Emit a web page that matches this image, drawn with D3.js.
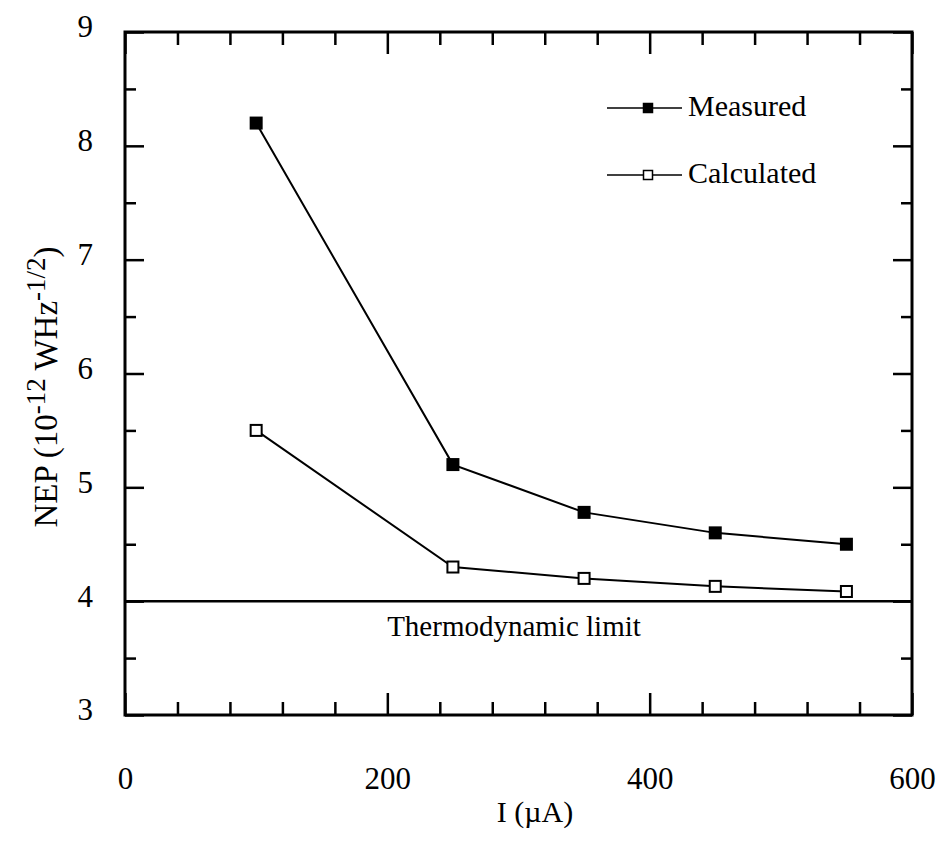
<!DOCTYPE html>
<html>
<head>
<meta charset="utf-8">
<script src="https://cdn.jsdelivr.net/npm/d3@7"></script>
<style>
  body { margin: 0; background: #fff; }
  text { font-family: "Liberation Serif", "Times New Roman", serif; fill: #000; }
</style>
</head>
<body>
<div id="chart"></div>
<script>
// data
var currents = [100, 250, 350, 450, 550];          // I (uA)
var measured = [8.2, 5.2, 4.78, 4.6, 4.5];         // NEP measured
var calculated = [5.5, 4.3, 4.2, 4.13, 4.085];     // NEP calculated
var thermoLimit = 4.0;
var xMajor = [0, 200, 400, 600];
var yMajor = [3, 4, 5, 6, 7, 8, 9];
var legendLabels = ["Measured", "Calculated"];

var W = 947, H = 845;
var plotL = 125, plotR = 912, plotT = 32, plotB = 715;

var svg = d3.select("#chart")
  .append("svg")
    .attr("width", W)
    .attr("height", H);

var x = d3.scaleLinear()
  .domain([0, 600])
  .range([plotL, plotR]);

var y = d3.scaleLinear()
  .domain([3, 9])
  .range([plotB, plotT]);

var xMinor = d3.range(0, 601, 40).filter(d => xMajor.indexOf(d) < 0);
var yMinor = d3.range(3.5, 9, 1);

function blackTicks(g) {
  g.select(".domain").remove();
  g.selectAll("line").attr("stroke", "#000").attr("stroke-width", 2.5);
}

// bottom axis
svg.append("g")
  .attr("transform", "translate(0," + plotB + ")")
  .call(d3.axisBottom(x).tickValues(xMajor).tickSize(-22).tickPadding(52).tickFormat(d3.format("d")))
  .call(blackTicks)
  .call(g => g.selectAll("text").style("font-size", "31px").style("font-family", "Liberation Serif"));
svg.append("g")
  .attr("transform", "translate(0," + plotB + ")")
  .call(d3.axisBottom(x).tickValues(xMinor).tickSize(-13).tickFormat(""))
  .call(blackTicks);

// top axis (ticks only)
svg.append("g")
  .attr("transform", "translate(0," + plotT + ")")
  .call(d3.axisTop(x).tickValues(xMajor).tickSize(-22).tickFormat(""))
  .call(blackTicks);
svg.append("g")
  .attr("transform", "translate(0," + plotT + ")")
  .call(d3.axisTop(x).tickValues(xMinor).tickSize(-13).tickFormat(""))
  .call(blackTicks);

// left axis
svg.append("g")
  .attr("transform", "translate(" + plotL + ",0)")
  .call(d3.axisLeft(y).tickValues(yMajor).tickSize(-19).tickPadding(32).tickFormat(d3.format("d")))
  .call(blackTicks)
  .call(g => g.selectAll("text").attr("dy", "0.16em").style("font-size", "31px").style("font-family", "Liberation Serif"));
svg.append("g")
  .attr("transform", "translate(" + plotL + ",0)")
  .call(d3.axisLeft(y).tickValues(yMinor).tickSize(-11).tickFormat(""))
  .call(blackTicks);

// right axis (ticks only)
svg.append("g")
  .attr("transform", "translate(" + plotR + ",0)")
  .call(d3.axisRight(y).tickValues(yMajor).tickSize(-19).tickFormat(""))
  .call(blackTicks);
svg.append("g")
  .attr("transform", "translate(" + plotR + ",0)")
  .call(d3.axisRight(y).tickValues(yMinor).tickSize(-11).tickFormat(""))
  .call(blackTicks);

// frame
svg.append("rect")
  .attr("x", plotL)
  .attr("y", plotT)
  .attr("width", plotR - plotL)
  .attr("height", plotB - plotT)
  .attr("fill", "none")
  .attr("stroke", "#000")
  .attr("stroke-width", 3);

// thermodynamic limit
svg.append("line")
  .attr("x1", plotL)
  .attr("x2", plotR)
  .attr("y1", y(thermoLimit))
  .attr("y2", y(thermoLimit))
  .attr("stroke", "#000")
  .attr("stroke-width", 2.5);
svg.append("text")
  .attr("x", 514)
  .attr("y", y(thermoLimit) + 35)
  .attr("text-anchor", "middle")
  .style("font-size", "29px")
  .text("Thermodynamic limit");

// series
var line = d3.line()
  .x(d => x(d[0]))
  .y(d => y(d[1]));

var series = [
  {name: legendLabels[0], values: d3.zip(currents, measured), fill: "#000"},
  {name: legendLabels[1], values: d3.zip(currents, calculated), fill: "#fff"}
];

series.forEach(function(s) {
  svg.append("path")
    .datum(s.values)
    .attr("fill", "none")
    .attr("stroke", "#000")
    .attr("stroke-width", 2)
    .attr("d", line);

  svg.selectAll(null)
    .data(s.values)
    .enter()
    .append("rect")
      .attr("x", d => x(d[0]) - 5.5)
      .attr("y", d => y(d[1]) - 5.5)
      .attr("width", 11)
      .attr("height", 11)
      .attr("fill", s.fill)
      .attr("stroke", "#000")
      .attr("stroke-width", 2);
});

// legend
var legend = svg.append("g");
series.forEach(function(s, i) {
  var ly = 108 + i * 67;
  legend.append("line")
    .attr("x1", 607)
    .attr("x2", 682)
    .attr("y1", ly)
    .attr("y2", ly)
    .attr("stroke", "#000")
    .attr("stroke-width", 1.5);
  legend.append("rect")
    .attr("x", 648 - 4.5)
    .attr("y", ly - 4.5)
    .attr("width", 9)
    .attr("height", 9)
    .attr("fill", s.fill)
    .attr("stroke", "#000")
    .attr("stroke-width", 1.5);
  legend.append("text")
    .attr("x", 688)
    .attr("y", ly + 8)
    .style("font-size", "30px")
    .text(s.name);
});

// axis titles
svg.append("text")
  .attr("x", 535)
  .attr("y", 822)
  .attr("text-anchor", "middle")
  .style("font-size", "30px")
  .text("I (\u00B5A)");

var yt = svg.append("text")
  .attr("transform", "translate(57,387) rotate(-90)")
  .attr("text-anchor", "middle")
  .style("font-size", "33px");
yt.append("tspan").text("NEP (10");
yt.append("tspan").attr("dy", -12).style("font-size", "27px").text("-12");
yt.append("tspan").attr("dy", 12).text(" WHz");
yt.append("tspan").attr("dy", -12).style("font-size", "27px").text("-1/2");
yt.append("tspan").attr("dy", 12).text(")");
</script>
</body>
</html>
